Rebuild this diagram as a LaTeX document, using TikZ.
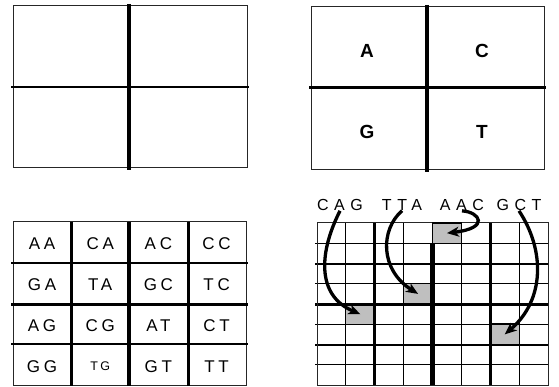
\documentclass[tikz,border=0pt]{standalone}
\usepackage{fontspec}
\setmainfont{Liberation Sans}
\usetikzlibrary{arrows.meta}
\newcommand\trk[2]{{\addfontfeature{LetterSpace=#1}#2}}
\begin{document}
\begin{tikzpicture}[x=1pt,y=-1pt,
  frame/.style={draw=black!85,line width=1pt},
  bigletter/.style={font=\fontsize{19}{19}\selectfont\bfseries,inner sep=0pt},
  pair/.style={font=\fontsize{17}{17}\selectfont,inner sep=0pt},
  codon/.style={font=\fontsize{16}{16}\selectfont,inner sep=0pt},
  cellg/.style={rectangle,minimum width=28.875pt,minimum height=20.25pt,inner sep=0pt,fill=gray!50},
  arr/.style={line width=3.3pt,-{Stealth[length=12pt,width=10pt,inset=3.5pt]}}
]
\useasboundingbox (0,0) rectangle (559,387);

% ---------- panel 1 ----------
\draw[frame] (13,6) rectangle (247,168);
\draw[line width=2.5pt] (11,87) -- (249,87);
\draw[line width=4pt] (129,4) -- (129,170);

% ---------- panel 2 ----------
\draw[frame] (311,7) rectangle (544,170);
\draw[line width=3pt] (309,88) -- (546,88);
\draw[line width=3.5pt] (427,5) -- (427,172);
\node[bigletter] (qa) at (367,51) {A};
\node[bigletter] (qc) at (482,51) {C};
\node[bigletter] (qg) at (367,132) {G};
\node[bigletter] (qt) at (482,132) {T};

% ---------- panel 3 ----------
\draw[frame] (13,222) rectangle (246,385);
\draw[line width=2pt] (11,263) -- (248,263);
\draw[line width=3pt] (11,304) -- (248,304);
\draw[line width=2pt] (11,344) -- (248,344);
\draw[line width=3pt] (71,222) -- (71,386);
\draw[line width=4.5pt] (129,222) -- (129,386);
\draw[line width=3pt] (188,222) -- (188,386);
\foreach \t [count=\k from 0] in {AA,CA,AC,CC,GA,TA,GC,TC,AG,CG,AT,CT,GG,TG,GT,TT}{
  \pgfmathtruncatemacro\c{mod(\k,4)}
  \pgfmathtruncatemacro\r{div(\k,4)}
  \ifnum\k=13
    \node[pair,font=\fontsize{12.5}{12.5}\selectfont] (p\k) at ({42+\c*58.2},{244+\r*40.8}) {\trk{20}{\t}};
  \else
    \node[pair] (p\k) at ({42+\c*58.2},{244+\r*40.8}) {\trk{22}{\t}};
  \fi
}

% ---------- panel 4 ----------
\node[codon] (cag) at (340,205) {\trk{35}{CAG}};
\node[codon] (tta) at (402,205) {\trk{35}{TTA}};
\node[codon] (aac) at (462,205) {\trk{35}{AAC}};
\node[codon] (gct) at (519,205) {\trk{35}{GCT}};

\node[cellg] (g1) at (360.31,314.13) {};
\node[cellg] (g2) at (418.06,293.88) {};
\node[cellg] (g3) at (446.94,233.13) {};
\node[cellg] (g4) at (504.69,334.38) {};

\foreach \i/\w in {1/1.1,2/3,3/1.1,5/1.1,6/3,7/1.1}
  \draw[line width=\w pt] ({317+\i*28.875},223) -- ({317+\i*28.875},385.5);
\draw[line width=4.5pt] (432.5,243.25) -- (432.5,386);
\foreach \j/\w in {1/1.1,2/2,3/1.1,4/3,5/1.1,6/2,7/1.1}
  \draw[line width=\w pt] (315,{223+\j*20.25}) -- (549,{223+\j*20.25});
\draw[frame] (317,223) rectangle (548,385);
\foreach \g in {g1,g2,g3,g4}
  \draw[line width=1.5pt] (\g.north west) rectangle (\g.south east);

\draw[arr] (cag.south) .. controls (320,250) and (315,295) .. (g1.center);
\draw[arr] (tta.south) .. controls (380,230) and (380,270) .. (g2.center);
\draw[arr] (aac.south) .. controls (480,212) and (490,228) .. (g3.center);
\draw[arr] (gct.south) .. controls (545,250) and (545,300) .. (g4.center);
\end{tikzpicture}
\end{document}
